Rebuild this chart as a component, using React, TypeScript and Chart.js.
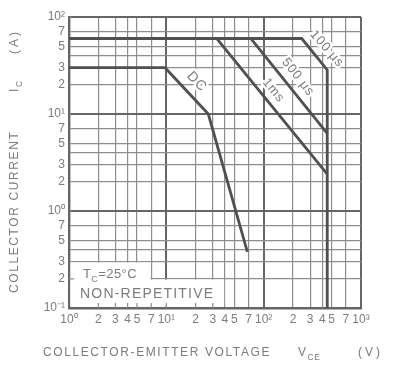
import { useEffect, useRef } from "react";
import { Chart, registerables } from "chart.js";

Chart.register(...registerables);

// Grid values on each axis (V and A)
const vceGrid = [1, 2, 3, 4, 5, 7, 10, 20, 30, 40, 50, 70, 100, 200, 300, 400, 500, 700, 1000];
const icGrid = [0.1, 0.2, 0.3, 0.4, 0.5, 0.7, 1, 2, 3, 4, 5, 7, 10, 20, 30, 40, 50, 70, 100];
const icUnlabeled = [0.4, 4, 40];

// Safe operating area boundaries (VCE in V, IC in A)
const vce100us = [1, 246, 450, 450];
const ic100us = [60, 60, 28.5, 0.1];
const vce500us = [74, 450];
const ic500us = [60, 6.3];
const vce1ms = [33, 450];
const ic1ms = [60, 2.4];
const vceDC = [1, 9.7, 27, 68];
const icDC = [30, 30, 10, 0.38];

// Curve captions, anchored in data units
const captionText = ["100 μs", "500 μs", "1ms", "DC"];
const captionVce = [445, 225, 126, 20.5];
const captionIc = [47, 24, 17.5, 21.5];
const captionAngle = [49, 52, 51, 46];

// Note box outline: [VCE edge, IC edge] for the two stacked panels
const noteBoxVce = [7, 40];
const noteBoxIc = [0.3, 0.2];

const FONT = '"Liberation Sans", Arial, Helvetica, sans-serif';
const TEXT = "#7c7c7c";
const GRID = "#8e8e8e";
const DECADE = "#666666";
const CURVE = "#505050";

const SUP: Record<string, string> = { "0": "⁰", "1": "¹", "2": "²", "3": "³", "-": "⁻" };
const sup = (n: number) => String(n).split("").map((c) => SUP[c] ?? c).join("");
const isDecade = (v: number) => Math.abs(Math.log10(v) - Math.round(Math.log10(v))) < 1e-6;
const tickText = (v: number) => {
  if (isDecade(v)) return "10" + sup(Math.round(Math.log10(v)));
  const m = v / Math.pow(10, Math.floor(Math.log10(v) + 1e-9));
  return String(Math.round(m));
};
const pts = (xs: number[], ys: number[]) => xs.map((x, i) => ({ x, y: ys[i] }));

type Run = { t: string; sub?: boolean; at?: number; sp?: number };
function drawRuns(ctx: CanvasRenderingContext2D, runs: Run[], x0: number, y: number, size: number, spacing: number) {
  let x = x0;
  ctx.textAlign = "left";
  ctx.textBaseline = "alphabetic";
  for (const r of runs) {
    if (r.at !== undefined) x = x0 + r.at;
    const fs = r.sub ? size * 0.7 : size;
    const sp = r.sp ?? spacing;
    ctx.font = `${fs}px ${FONT}`;
    (ctx as any).letterSpacing = `${sp}px`;
    ctx.fillText(r.t, x, y + (r.sub ? size * 0.3 : 0));
    (ctx as any).letterSpacing = "0px";
    x += ctx.measureText(r.t).width + sp * r.t.length;
  }
}

const soaDecor = {
  id: "soaDecor",
  beforeDatasetsDraw(chart: any) {
    const { ctx, chartArea: a, scales } = chart;
    const xs = scales.x;
    const ys = scales.y;
    ctx.save();
    // blank panel behind the note text
    ctx.fillStyle = "#ffffff";
    for (let i = 0; i < noteBoxVce.length; i++) {
      const l = a.left + 1.6;
      const r = xs.getPixelForValue(noteBoxVce[i]) - 0.8;
      const t = ys.getPixelForValue(noteBoxIc[i]) + 0.8;
      const b = a.bottom - 1.6;
      ctx.fillRect(l, t, r - l, b - t);
    }
    // short inner tick stubs along the blanked edges
    ctx.strokeStyle = GRID;
    ctx.lineWidth = 1.2;
    ctx.beginPath();
    for (const v of vceGrid) {
      if (v > 1 && v < noteBoxVce[1]) {
        const x = xs.getPixelForValue(v);
        ctx.moveTo(x, a.bottom);
        ctx.lineTo(x, a.bottom - 5);
      }
    }
    const y2 = ys.getPixelForValue(0.2);
    ctx.moveTo(a.left, y2);
    ctx.lineTo(a.left + 5, y2);
    ctx.stroke();

    // captions sit in a white knock-out over the grid
    for (let i = 0; i < captionText.length; i++) {
      const x = xs.getPixelForValue(captionVce[i]);
      const y = ys.getPixelForValue(captionIc[i]);
      ctx.save();
      ctx.translate(x, y);
      ctx.rotate((captionAngle[i] * Math.PI) / 180);
      ctx.font = `${captionText[i] === "DC" ? 14 : 13}px ${FONT}`;
      (ctx as any).letterSpacing = "0.8px";
      ctx.textAlign = "center";
      ctx.textBaseline = "middle";
      ctx.strokeStyle = "#ffffff";
      ctx.lineWidth = 5;
      ctx.lineJoin = "round";
      ctx.strokeText(captionText[i], 0, 0);
      ctx.restore();
    }
    ctx.restore();
  },
  afterDraw(chart: any) {
    const { ctx, scales } = chart;
    const xs = scales.x;
    const ys = scales.y;
    ctx.save();
    ctx.fillStyle = TEXT;

    // curve captions
    for (let i = 0; i < captionText.length; i++) {
      const x = xs.getPixelForValue(captionVce[i]);
      const y = ys.getPixelForValue(captionIc[i]);
      ctx.save();
      ctx.translate(x, y);
      ctx.rotate((captionAngle[i] * Math.PI) / 180);
      ctx.font = `${captionText[i] === "DC" ? 14 : 13}px ${FONT}`;
      (ctx as any).letterSpacing = "0.8px";
      ctx.textAlign = "center";
      ctx.textBaseline = "middle";
      ctx.fillText(captionText[i], 0, 0);
      ctx.restore();
    }

    // note text
    drawRuns(ctx, [{ t: "T" }, { t: "C", sub: true }, { t: "=25°C" }], 83, 278, 13, 0.4);
    drawRuns(ctx, [{ t: "NON-REPETITIVE" }], 80, 298, 14, 1.2);

    // x axis title
    drawRuns(
      ctx,
      [
        { t: "COLLECTOR-EMITTER VOLTAGE" },
        { t: "V", at: 255 },
        { t: "CE", sub: true, sp: 0.6 },
        { t: "(V)", at: 315, sp: 3 },
      ],
      43,
      356,
      12,
      1.6
    );

    // y axis title
    ctx.save();
    ctx.translate(18, 0);
    ctx.rotate(-Math.PI / 2);
    drawRuns(
      ctx,
      [
        { t: "COLLECTOR CURRENT" },
        { t: "I", at: 201 },
        { t: "C", sub: true },
        { t: "(A)", at: 239, sp: 3 },
      ],
      -293,
      0,
      12,
      1.6
    );
    ctx.restore();
    ctx.restore();
  },
};

const gridColor = (c: any) => (c.tick && isDecade(c.tick.value) ? DECADE : GRID);
const gridWidth = (c: any) => (c.tick && isDecade(c.tick.value) ? 2 : 1.2);

export default function App() {
  const ref = useRef<HTMLCanvasElement | null>(null);

  useEffect(() => {
    if (!ref.current) return;
    const line = { borderColor: CURVE, borderWidth: 2.8, pointRadius: 0, fill: false, tension: 0 };
    const chart = new Chart(ref.current, {
      type: "line",
      data: {
        datasets: [
          { label: "100 μs", data: pts(vce100us, ic100us), ...line },
          { label: "500 μs", data: pts(vce500us, ic500us), ...line },
          { label: "1ms", data: pts(vce1ms, ic1ms), ...line },
          { label: "DC", data: pts(vceDC, icDC), ...line },
        ],
      },
      options: {
        responsive: false,
        animation: false,
        events: [],
        layout: { padding: { top: 17, right: 34, left: 0, bottom: 0 } },
        plugins: { legend: { display: false }, tooltip: { enabled: false } },
        scales: {
          x: {
            type: "logarithmic",
            min: 1,
            max: 1000,
            afterBuildTicks: (s: any) => {
              s.ticks = vceGrid.map((v) => ({ value: v }));
            },
            afterFit: (s: any) => {
              s.height = 64;
            },
            grid: { color: gridColor, lineWidth: gridWidth, drawTicks: false },
            border: { color: DECADE, width: 2.4 },
            ticks: {
              autoSkip: false,
              maxRotation: 0,
              padding: 4,
              color: TEXT,
              font: { family: FONT, size: 12 },
              callback: (v: any) => tickText(Number(v)),
            },
          },
          y: {
            type: "logarithmic",
            min: 0.1,
            max: 100,
            afterBuildTicks: (s: any) => {
              s.ticks = icGrid.map((v) => ({ value: v }));
            },
            afterFit: (s: any) => {
              s.width = 69;
            },
            grid: { color: gridColor, lineWidth: gridWidth, drawTicks: false },
            border: { color: DECADE, width: 2.4 },
            ticks: {
              autoSkip: false,
              padding: 4,
              color: TEXT,
              font: { family: FONT, size: 12 },
              callback: (v: any) => {
                const n = Number(v);
                return icUnlabeled.some((u) => Math.abs(u - n) < 1e-9) ? "" : tickText(n);
              },
            },
          },
        },
      },
      plugins: [soaDecor],
    });
    return () => chart.destroy();
  }, []);

  return (
    <canvas
      ref={ref}
      width={395}
      height={372}
      style={{ position: "absolute", left: 0, top: 0, display: "block", background: "#ffffff" }}
    />
  );
}
